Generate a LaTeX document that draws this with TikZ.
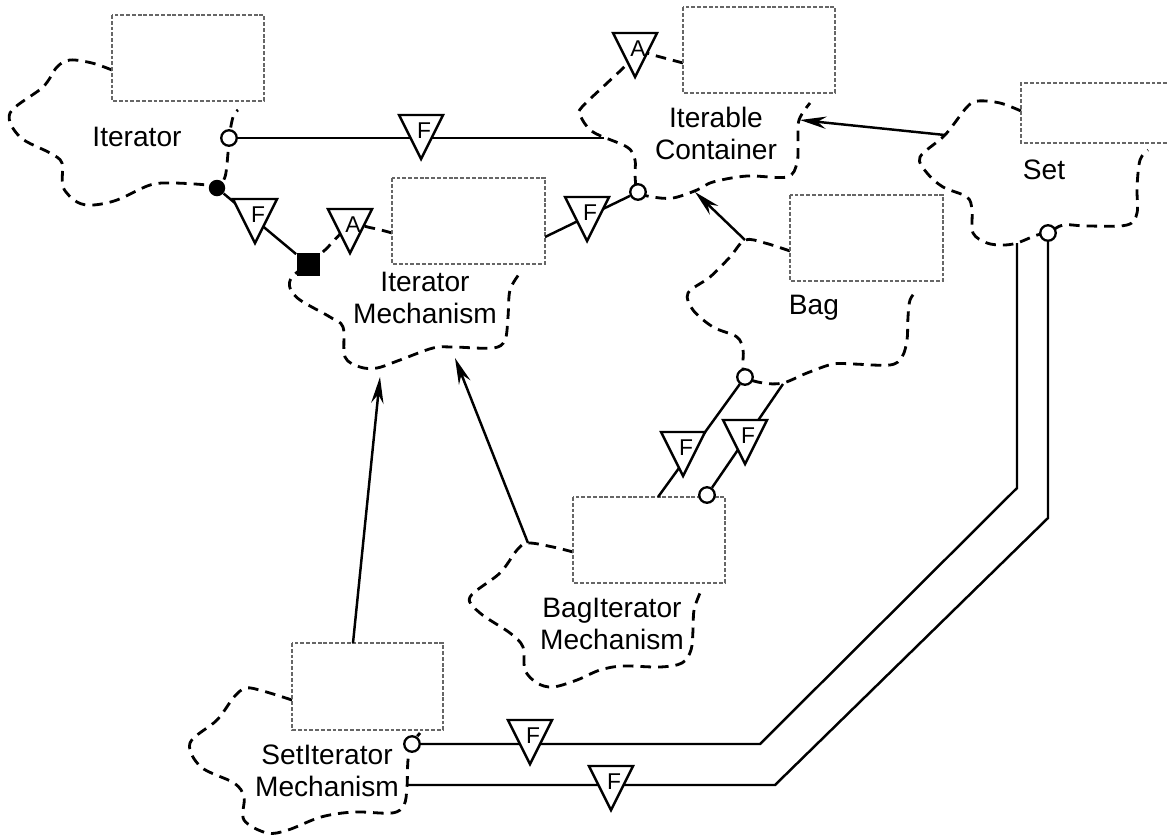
\documentclass[tikz,border=0pt]{standalone}
\usepackage{fontspec}
\setmainfont{Liberation Sans}
\usetikzlibrary{arrows.meta}

\tikzset{
  cloudline/.style={line width=1.6pt, dash pattern=on 6pt off 4pt},
  tmpl/.style={black!60, line width=0.8pt, dash pattern=on 2.2pt off 1.1pt},
  link/.style={line width=1.4pt},
  uses/.style={link, -{Stealth[length=15pt,width=7pt,inset=5pt]}},
  hollow/.style={circle, draw, fill=white, line width=1.3pt, minimum size=0.31cm, inner sep=0pt},
  fdot/.style={circle, fill=black, minimum size=0.33cm, inner sep=0pt},
  blob/.style={rectangle, fill=black, minimum size=0.46cm, inner sep=0pt},
  lbl/.style={font=\fontsize{16}{18.2}\selectfont, align=center, inner sep=0pt},
  letter/.style={font=\fontsize{13}{14}\selectfont, inner sep=0pt},
  adorn/.pic={
    \draw[link, fill=white] (-22,-15) -- (22,-15) -- (0,29) -- cycle;
    \node[letter] (-l) at (3,1) {\tikzpictext};
  },
}

\begin{document}
\begin{tikzpicture}[x=0.02cm, y=-0.02cm]
    \useasboundingbox (0,0) rectangle (1167,836);

    % Class clouds
    \draw[cloudline] plot[smooth, tension=0.55] coordinates {(112,70) (92,63) (70,60) (57,67) (43,87) (10,113) (20,137) (50,153) (62,163) (63,187) (77,202) (93,205) (117,200) (150,185) (173,183) (207,185) (217,188) (225,177) (228,153) (229,138) (233,117) (238,110)};
    \draw[cloudline] plot[smooth, tension=0.55] coordinates {(683,63) (653,55) (635,50) (628,63) (605,85) (582,107) (580,115) (593,132) (627,147) (635,160) (635,175) (638,192) (653,197) (673,198) (697,190) (713,182) (747,176) (787,177) (797,163) (798,143) (799,120) (810,103)};
    \draw[cloudline] plot[smooth, tension=0.55] coordinates {(1021,111) (1000,103) (978,101) (967,107) (945,135) (920,157) (927,173) (943,187) (967,197) (972,210) (973,233) (987,243) (1003,245) (1017,243) (1037,235) (1048,233) (1063,225) (1087,226) (1127,225) (1137,213) (1137,187) (1140,160) (1148,150)};
    \draw[cloudline] plot[smooth, tension=0.55] coordinates {(790,251) (765,243) (745,240) (730,257) (710,277) (688,293) (693,310) (713,327) (737,337) (743,350) (743,363) (745,377) (763,383) (783,383) (807,373) (833,364) (853,364) (890,365) (902,357) (907,340) (908,317) (910,300) (917,290)};
    \draw[cloudline] plot[smooth, tension=0.55] coordinates {(392,233) (372,228) (350,226) (325,250) (308,264) (292,277) (290,288) (300,300) (330,317) (343,327) (345,357) (360,367) (377,368) (400,360) (433,348) (453,347) (493,348) (505,340) (508,317) (510,290) (520,273)};
    \draw[cloudline] plot[smooth, tension=0.55] coordinates {(573,552) (553,547) (528,543) (517,550) (500,573) (470,597) (480,613) (510,633) (523,647) (525,670) (537,683) (553,687) (577,680) (600,670) (623,666) (660,667) (682,663) (691,650) (693,630) (694,610) (700,593)};
    \draw[cloudline] plot[smooth, tension=0.55] coordinates {(292,700) (263,691) (246,688) (234,697) (217,720) (190,743) (201,767) (234,783) (244,797) (244,820) (267,833) (288,830) (321,817) (354,812) (392,813) (404,805) (407,787) (408,760) (412,744) (420,733)};

    % Class templates
    \draw[tmpl] (112,15) rectangle (264,101);
    \draw[tmpl] (683,7) rectangle (835,93);
    \draw[tmpl] (1167,83) -- (1021,83) -- (1021,143) -- (1167,143);
    \draw[tmpl] (790,195) rectangle (943,281);
    \draw[tmpl] (392,178) rectangle (545,264);
    \draw[tmpl] (573,497) rectangle (725,583);
    \draw[tmpl] (292,643) rectangle (443,730);

    % Class names
    \node[lbl] (itName) at (137,137) {Iterator};
    \node[lbl] (icName) at (716,133) {Iterable\\Container};
    \node[lbl] (stName) at (1044,170) {Set};
    \node[lbl] (bgName) at (814,308) {Bag};
    \node[lbl] (imName) at (425,298) {Iterator\\Mechanism};
    \node[lbl] (biName) at (612,624) {BagIterator\\Mechanism};
    \node[lbl] (siName) at (327,771) {SetIterator\\Mechanism};

    % Adornments
    \node[hollow] (itC) at (229,138) {};
    \node[fdot] (itD) at (217,188) {};
    \node[blob] (imS) at (308,264) {};
    \node[hollow] (icC) at (638,192) {};
    \node[hollow] (bgC) at (745,377) {};
    \node[hollow] (biC) at (707,495) {};
    \node[hollow] (stC) at (1048,233) {};
    \node[hollow] (siC) at (412,744) {};

    \coordinate (icW) at (604,138);
    \coordinate (imE) at (545,237);
    \coordinate (biN) at (658,497);
    \coordinate (bgS) at (783,384);
    \coordinate (stS) at (1017,243);
    \coordinate (siE) at (407,785);
    \coordinate (stW) at (945,135);
    \coordinate (icE) at (800,120);
    \coordinate (bgW) at (745,240);
    \coordinate (icS) at (695,192);
    \coordinate (siN) at (353,643);
    \coordinate (imB) at (380,377);
    \coordinate (biW) at (528,543);
    \coordinate (imC) at (455,358);

    % Relationships
    \draw[link] (itC) -- (icW);
    \draw[link] (itD) -- (imS);
    \draw[link] (imE) -- (icC);
    \draw[link] (bgC) -- (biN);
    \draw[link] (biC) -- (bgS);
    \draw[link] (stS) -- (1017,488) -- (760,744) -- (siC);
    \draw[link] (stC) -- (1048,518) -- (775,785) -- (siE);

    \draw[uses] (stW) -- (icE);
    \draw[uses] (bgW) -- (icS);
    \draw[uses] (siN) -- (imB);
    \draw[uses] (biW) -- (imC);

    \pic[pic text=F] (fIt) at (421,130) {adorn};
    \pic[pic text=A] (aIc) at (635,48) {adorn};
    \pic[pic text=F] (fIm) at (255,214) {adorn};
    \pic[pic text=A] (aIm) at (350,224) {adorn};
    \pic[pic text=F] (fIc) at (587,212) {adorn};
    \pic[pic text=F] (fBg) at (683,447) {adorn};
    \pic[pic text=F] (fBi) at (745,435) {adorn};
    \pic[pic text=F] (fSi) at (530,735) {adorn};
    \pic[pic text=F] (fSt) at (611,781) {adorn};
\end{tikzpicture}
\end{document}
